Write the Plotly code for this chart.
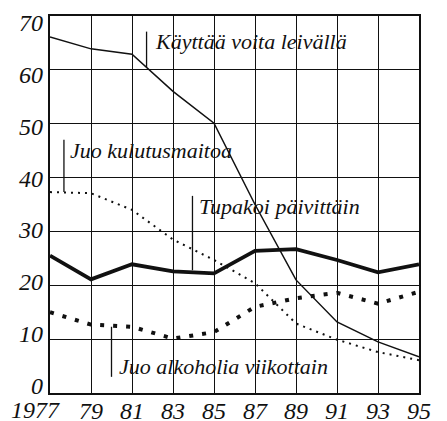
import plotly.graph_objects as go

years = [1977, 1979, 1981, 1983, 1985, 1987, 1989, 1991, 1993, 1995]
x_tick_labels = ["1977", "79", "81", "83", "85", "87", "89", "91", "93", "95"]
y_ticks = [0, 10, 20, 30, 40, 50, 60, 70]

voita = [66.1, 63.9, 62.9, 56.0, 50.1, 35.0, 21.0, 13.2, 9.5, 6.7]          # Käyttää voita leivällä
maito = [37.3, 37.1, 34.0, 28.5, 24.7, 20.4, 12.9, 9.9, 7.6, 6.1]           # Juo kulutusmaitoa
tupakka = [25.5, 21.1, 23.9, 22.6, 22.2, 26.4, 26.7, 24.7, 22.4, 23.9]      # Tupakoi päivittäin
alkoholi = [15.0, 12.7, 12.3, 10.1, 11.3, 16.0, 17.6, 18.6, 16.6, 18.8]     # Juo alkoholia viikottain

FONT = "Liberation Serif, Times New Roman, serif"
INK = "#111111"
TICKFONT = dict(family=FONT, size=24, color=INK, style="italic")

fig = go.Figure()
fig.add_trace(go.Scatter(x=years, y=voita, mode="lines",
                         line=dict(color=INK, width=1.5), name="Käyttää voita leivällä"))
fig.add_trace(go.Scatter(x=years, y=maito, mode="lines",
                         line=dict(color=INK, width=2, dash="2px,5px"), name="Juo kulutusmaitoa"))
fig.add_trace(go.Scatter(x=years, y=tupakka, mode="lines",
                         line=dict(color=INK, width=3.8), name="Tupakoi päivittäin"))
fig.add_trace(go.Scatter(x=years, y=alkoholi, mode="lines",
                         line=dict(color=INK, width=4, dash="4px,9px"), name="Juo alkoholia viikottain"))
# carrier trace for the label axis
fig.add_trace(go.Scatter(x=[None], y=[None], yaxis="y2", showlegend=False, hoverinfo="skip"))

# Series labels with leader lines (label x, label y, leader x, leader top, leader bottom)
labels = [
    ("Käyttää voita leivällä", 1982.02, 65.3, 1981.71, 67.1, 60.5),
    ("Juo kulutusmaitoa", 1977.88, 45.1, 1977.68, 47.0, 37.3),
    ("Tupakoi päivittäin", 1984.16, 34.6, 1983.95, 36.6, 22.8),
    ("Juo alkoholia viikottain", 1980.25, 5.0, 1980.0, 12.3, 3.0),
]
for text, lx, ly, vx, y0, y1 in labels:
    fig.add_annotation(x=lx, y=ly, text=text, showarrow=False, xanchor="left", yanchor="middle",
                       font=dict(family=FONT, size=22, color=INK, style="italic"))
    fig.add_shape(type="line", x0=vx, x1=vx, y0=y0, y1=y1, line=dict(color=INK, width=1.3))

# first year label sits left of its gridline in the original
fig.add_annotation(x=years[0], y=0, yref="paper", text=x_tick_labels[0], showarrow=False,
                   xanchor="right", yanchor="top", xshift=12, yshift=-2, font=TICKFONT)

fig.update_layout(
    width=447, height=421,
    margin=dict(l=50, r=28, t=16, b=28, autoexpand=False),
    paper_bgcolor="white", plot_bgcolor="white",
    showlegend=False,
    xaxis=dict(range=[1977, 1995], tickvals=years[1:], ticktext=x_tick_labels[1:],
               tickangle=0, automargin=False, ticklabelstandoff=-5,
               showgrid=True, gridcolor=INK, gridwidth=1.3,
               showline=True, linecolor=INK, linewidth=1.5, mirror=True,
               ticks="", zeroline=False, tickfont=TICKFONT),
    yaxis=dict(range=[0, 70], tickvals=y_ticks, showticklabels=False, automargin=False,
               showgrid=True, gridcolor=INK, gridwidth=1.3,
               showline=True, linecolor=INK, linewidth=1.5, mirror=True,
               ticks="", zeroline=False),
    yaxis2=dict(overlaying="y", side="left", range=[-1.49, 71.35], tickvals=y_ticks,
                automargin=False,
                showgrid=False, zeroline=False, showline=False, ticks="",
                ticklabelstandoff=6, tickfont=TICKFONT),
)

fig.write_html("out.html", config={"displayModeBar": False},
               post_script="document.body.style.margin='0';document.body.style.overflow='hidden';")
